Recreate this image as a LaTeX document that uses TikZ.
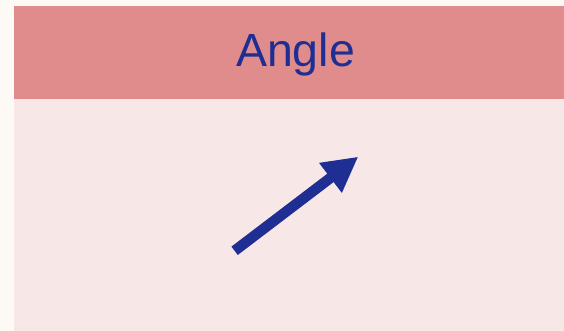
\documentclass[tikz,border=0pt]{standalone}
\usepackage{fontspec}
\setmainfont{Liberation Sans}
\usetikzlibrary{arrows.meta}
\definecolor{bgc}{HTML}{FDF9F4}
\definecolor{headc}{HTML}{E08C8C}
\definecolor{bodyc}{HTML}{F8E7E7}
\definecolor{bluec}{HTML}{1F2E93}
\begin{document}
\begin{tikzpicture}[x=1pt,y=-1pt,
  title/.style={font=\fontsize{46.5}{50}\selectfont, text=bluec, anchor=base},
  bigarrow/.style={draw=bluec, line width=10.5pt, -{Triangle[length=35pt,width=35pt]}}]
\useasboundingbox (0,0) rectangle (564,331);
\fill[bgc] (0,0) rectangle (564,331);
\fill[headc] (14,6) rectangle (564,99);
\fill[bodyc] (14,99) rectangle (564,331);
\node[title] (t) at (295.5,67) {Angle};
\coordinate (a) at (234.6,250.8);
\coordinate (b) at (358.3,156.7);
\draw[bigarrow] (a) -- (b);
\end{tikzpicture}
\end{document}
